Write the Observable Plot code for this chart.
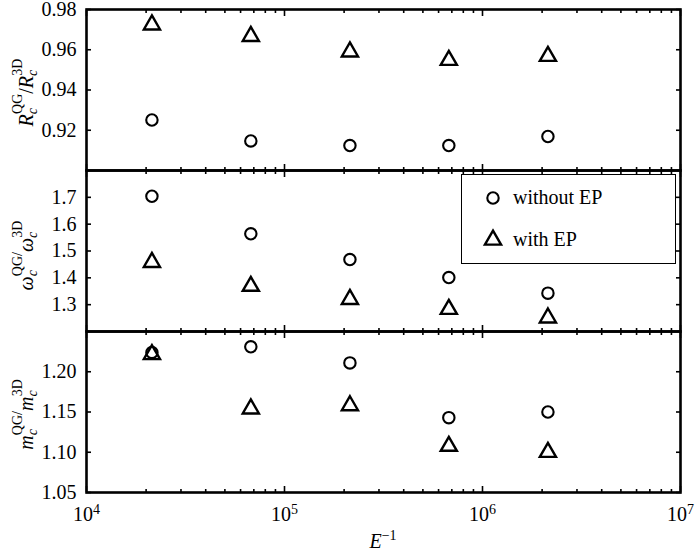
<!DOCTYPE html>
<html><head><meta charset="utf-8">
<script src="https://cdn.jsdelivr.net/npm/d3@7"></script>
<script src="https://cdn.jsdelivr.net/npm/@observablehq/plot@0.6"></script>
<style>
html,body{margin:0;padding:0;background:#fff;}
#chart{position:relative;width:696px;height:556px;font-family:"Liberation Serif","Times New Roman",serif;}
#chart svg{position:absolute;left:0;overflow:visible;background:transparent;}
</style></head><body><div id="chart"></div>
<script>
// ---- data ----
const xValues = [21400, 67600, 214000, 676000, 2140000];          // E^-1
const seriesNames = ["without EP", "with EP"];
const rWithout     = [0.9251, 0.9147, 0.9124, 0.9124, 0.9169];
const rWith        = [0.9724, 0.9667, 0.9590, 0.9548, 0.9568];
const omegaWithout = [1.704, 1.564, 1.468, 1.401, 1.343];
const omegaWith    = [1.458, 1.369, 1.320, 1.283, 1.251];
const mWithout     = [1.224, 1.231, 1.211, 1.143, 1.150];
const mWith        = [1.2215, 1.154, 1.158, 1.1076, 1.100];
// ---- ticks ----
const xMajorTicks = [1e4, 1e5, 1e6, 1e7];
const xMinorTicks = [2e4,3e4,4e4,5e4,6e4,7e4,8e4,9e4, 2e5,3e5,4e5,5e5,6e5,7e5,8e5,9e5, 2e6,3e6,4e6,5e6,6e6,7e6,8e6,9e6];
const rTicks = [0.92, 0.94, 0.96, 0.98];
const omegaTicks = [1.3, 1.4, 1.5, 1.6, 1.7];
const mTicks = [1.05, 1.10, 1.15, 1.20];

const W = 696, ML = 86, MR = 16, PH = 161;
const FONT = '"Liberation Serif","Times New Roman",serif';

function panel({without, withv, yDomain, yTicks, yFormat, marginTop, marginBottom, bottomLabels}) {
  const d0 = xValues.map((x, i) => ({x, y: without[i], s: seriesNames[0]}));
  const d1 = xValues.map((x, i) => ({x, y: withv[i], s: seriesNames[1]}));
  const blank = () => "";
  return Plot.plot({
    width: W, height: marginTop + PH + marginBottom,
    marginLeft: ML, marginRight: MR, marginTop, marginBottom,
    style: {fontFamily: FONT, fontSize: "20px", background: "transparent", overflow: "visible", color: "black"},
    x: {type: "log", domain: [1e4, 1e7]},
    y: {domain: yDomain},
    marks: [
      Plot.axisY(yTicks, {anchor: "left", tickSize: -5, tickPadding: 15, tickFormat: yFormat, label: null, fontSize: 20, strokeWidth: 1.6}),
      Plot.axisY(yTicks, {anchor: "right", tickSize: -5, tickFormat: blank, label: null, strokeWidth: 1.6}),
      Plot.axisX(xMajorTicks, {anchor: "top", tickSize: -6, tickFormat: blank, label: null, strokeWidth: 1.6}),
      Plot.axisX(xMinorTicks, {anchor: "top", tickSize: -3, tickFormat: blank, label: null, strokeWidth: 1.6}),
      Plot.axisX(xMajorTicks, {anchor: "bottom", tickSize: -6, tickPadding: 20, fontSize: 20,
        tickFormat: bottomLabels ? (d => String(Math.round(Math.log10(d)))) : blank, label: null, strokeWidth: 1.6}),
      Plot.axisX(xMinorTicks, {anchor: "bottom", tickSize: -3, tickFormat: blank, label: null, strokeWidth: 1.6}),
      Plot.frame({stroke: "black", strokeWidth: 2.6}),
      Plot.dot(d0, {x: "x", y: "y", symbol: "circle", r: 5.7, stroke: "black", strokeWidth: 2.1, fill: "none"}),
      Plot.dot(d1, {x: "x", y: "y", symbol: "triangle", r: 6, stroke: "black", strokeWidth: 2.4, fill: "none", strokeLinejoin: "miter"})
    ]
  });
}

const chart = document.getElementById("chart");
const p1 = panel({without: rWithout, withv: rWith, yDomain: [0.90, 0.98], yTicks: rTicks, yFormat: d3.format(".2f"), marginTop: 9, marginBottom: 0});
const p2 = panel({without: omegaWithout, withv: omegaWith, yDomain: [1.2, 1.8], yTicks: omegaTicks, yFormat: d3.format(".1f"), marginTop: 0, marginBottom: 0});
const p3 = panel({without: mWithout, withv: mWith, yDomain: [1.05, 1.25], yTicks: mTicks, yFormat: d3.format(".2f"), marginTop: 0, marginBottom: 64, bottomLabels: true});
p1.style.top = "0px"; p2.style.top = (9 + PH) + "px"; p3.style.top = (9 + 2 * PH) + "px";
chart.append(p1, p2, p3);

// superscript exponents on x tick labels
d3.select(p3).selectAll('g[aria-label="x-axis tick label"] text').each(function() {
  const e = this.textContent;
  if (!e) return;
  const t = d3.select(this);
  t.text(null);
  t.append("tspan").text("10");
  t.append("tspan").attr("dy", "-0.5em").attr("font-size", "14px").text(e);
});

// rich y-axis labels (rotated)
function yLabel(svg, cy, main, smallSlash) {
  const t = d3.select(svg).append("text")
    .attr("transform", `translate(33,${cy}) rotate(-90)`)
    .attr("text-anchor", "middle").attr("font-family", FONT).attr("font-size", 20).attr("fill", "black");
  t.append("tspan").attr("font-style", "italic").text(main);
  t.append("tspan").attr("font-style", "italic").attr("font-size", 14).attr("dy", 4).text("c");
  t.append("tspan").attr("font-size", 14).attr("dx", -6).attr("dy", -15).text("QG");
  if (smallSlash) {
    t.append("tspan").attr("font-size", 14).text("/");
    t.append("tspan").attr("font-style", "italic").attr("dy", 11).text(main);
  } else {
    t.append("tspan").attr("dy", 11).text("/");
    t.append("tspan").attr("font-style", "italic").text(main);
  }
  t.append("tspan").attr("font-style", "italic").attr("font-size", 14).attr("dy", 4).text("c");
  t.append("tspan").attr("font-size", 14).attr("dx", -6).attr("dy", -15).text("3D");
}
yLabel(p1, 9 + PH / 2 + 3, "R", false);
yLabel(p2, PH / 2 + 5, "\u03c9", true);
yLabel(p3, PH / 2 + 3, "m", true);

// x-axis title E^-1
{
  const t = d3.select(p3).append("text")
    .attr("x", (ML + W - MR) / 2).attr("y", PH + 56)
    .attr("text-anchor", "middle").attr("font-family", FONT).attr("font-size", 20).attr("fill", "black");
  t.append("tspan").attr("font-style", "italic").text("E");
  t.append("tspan").attr("font-size", 14).attr("dy", -8).text("\u22121");
}

// legend (in middle panel)
{
  const g = d3.select(p2).append("g").attr("font-family", FONT).attr("font-size", 20).attr("text-anchor", "start");
  g.append("rect").attr("x", 461.5).attr("y", 4.5).attr("width", 214).attr("height", 89)
    .attr("fill", "white").attr("stroke", "black").attr("stroke-width", 1);
  const items = [{name: seriesNames[0], sym: d3.symbolCircle, r: 5.7, sw: 2.1, y: 28},
                 {name: seriesNames[1], sym: d3.symbolTriangle, r: 6, sw: 2.4, y: 70}];
  for (const it of items) {
    g.append("path").attr("transform", `translate(493,${it.y})`)
      .attr("d", d3.symbol(it.sym, Math.PI * it.r * it.r)())
      .attr("fill", "none").attr("stroke", "black").attr("stroke-width", it.sw).attr("stroke-linejoin", "miter");
    g.append("text").attr("x", 513).attr("y", it.y + 6).attr("fill", "black").attr("text-anchor", "start").text(it.name);
  }
}
</script></body></html>
